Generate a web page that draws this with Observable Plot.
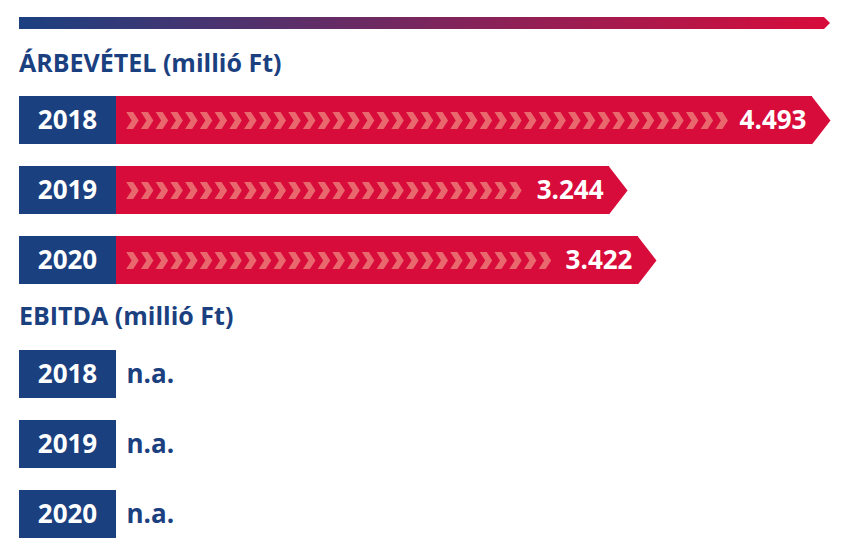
<!DOCTYPE html>
<html>
<head>
<meta charset="utf-8">
<script src="https://cdn.jsdelivr.net/npm/d3@7"></script>
<script src="https://cdn.jsdelivr.net/npm/@observablehq/plot@0.6"></script>
<style>
  html, body { margin: 0; padding: 0; background: #fff; }
  #root { position: relative; width: 850px; height: 555px; font-family: "Open Sans", sans-serif; overflow: hidden; }
  .topbar { position: absolute; left: 19px; top: 17px; width: 811px; height: 12px;
    background: linear-gradient(to right, #1b4080, #d80c3b);
    clip-path: polygon(0 0, calc(100% - 6px) 0, 100% 50%, calc(100% - 6px) 100%, 0 100%); }
  .title { position: absolute; left: 19px; font-size: 25px; line-height: 25px; font-weight: 700; color: #1b4080; white-space: nowrap; }
  .chart { position: absolute; left: 0; }
  .chart svg { overflow: visible; }
</style>
</head>
<body>
<div id="root">
  <div class="topbar"></div>
  <div class="title" id="t1" style="top:50px"></div>
  <div class="chart" id="c1" style="top:85px"></div>
  <div class="title" id="t2" style="top:303px"></div>
  <div class="chart" id="c2" style="top:340px"></div>
</div>
<script>
// ---- data ----
const revenueTitle = "ÁRBEVÉTEL (millió Ft)";
const ebitdaTitle = "EBITDA (millió Ft)";
const years = [2018, 2019, 2020];
const revenue = [4493, 3244, 3422];
const ebitda = [null, null, null];
const missingLabel = "n.a.";

// ---- styles ----
const BLUE = "#1b4080", RED = "#d80c3b", CHEV = "#e8686e";
const huFormat = d3.formatLocale({decimal: ",", thousands: ".", grouping: [3], currency: ["", " Ft"]}).format(",d");

document.getElementById("t1").textContent = revenueTitle;
document.getElementById("t2").textContent = ebitdaTitle;

const revRows = years.map((y, i) => ({year: y, value: revenue[i]}));
const ebRows = years.map((y, i) => ({year: y, value: ebitda[i]}));

const xDomain = [0, d3.max(revenue)];
const xRange = [100, 830];
const xs = d3.scaleLinear(xDomain, xRange);

// decorative chevrons inside each bar (pixel pitch converted back to data units)
const chevrons = [];
for (const r of revRows) {
  const endPx = xs(r.value) - 100;
  for (let k = 0; ; k++) {
    const left = 125.7 + 14.73 * k;
    if (left + 12 > endPx + 1) break;
    chevrons.push({year: r.year, x: xs.invert(left + 6)});
  }
}

const triangle = {draw(ctx) { ctx.moveTo(-18.6, -24); ctx.lineTo(0, 0); ctx.lineTo(-18.6, 24); ctx.closePath(); }};
const chevron = {draw(ctx) {
  ctx.moveTo(-6, -8.5); ctx.lineTo(1, -8.5); ctx.lineTo(6.5, 0); ctx.lineTo(1, 8.5); ctx.lineTo(-6, 8.5); ctx.lineTo(-0.5, 0); ctx.closePath();
}};

const common = {
  width: 850, height: 210, marginTop: 10, marginBottom: 11, marginLeft: 0, marginRight: 0,
  x: {domain: xDomain, range: xRange, axis: null},
  y: {domain: years, axis: null, paddingInner: 0.319, paddingOuter: 0},
  style: {fontFamily: "'Open Sans', sans-serif", background: "transparent"}
};

const yearBox = (data) => [
  Plot.barX(data, {x1: () => 0, x2: () => 0, y: "year", fill: BLUE, insetLeft: -81, insetRight: -16}),
  Plot.text(data, {x: () => 0, y: "year", text: d => String(d.year), dx: -33, fill: "white", fontSize: 26, fontWeight: 700})
];

const c1 = Plot.plot({
  ...common,
  marks: [
    Plot.barX(revRows, {x1: () => 0, x2: "value", y: "year", fill: RED, insetRight: 18}),
    Plot.dot(revRows, {x: "value", y: "year", symbol: triangle, r: 1, fill: RED, stroke: "none"}),
    Plot.dot(chevrons, {x: "x", y: "year", symbol: chevron, r: 1, fill: CHEV, stroke: "none"}),
    Plot.text(revRows, {x: "value", y: "year", text: d => huFormat(d.value), dx: -24, textAnchor: "end", fill: "white", fontSize: 26, fontWeight: 700}),
    ...yearBox(revRows)
  ]
});
document.getElementById("c1").append(c1);

const c2 = Plot.plot({
  ...common,
  marginTop: 9, marginBottom: 12,
  marks: [
    ...yearBox(ebRows),
    Plot.text(ebRows, {x: () => 0, y: "year", text: d => d.value == null ? missingLabel : huFormat(d.value), dx: 26, textAnchor: "start", fill: BLUE, fontSize: 26, fontWeight: 700})
  ]
});
document.getElementById("c2").append(c2);
</script>
</body>
</html>
